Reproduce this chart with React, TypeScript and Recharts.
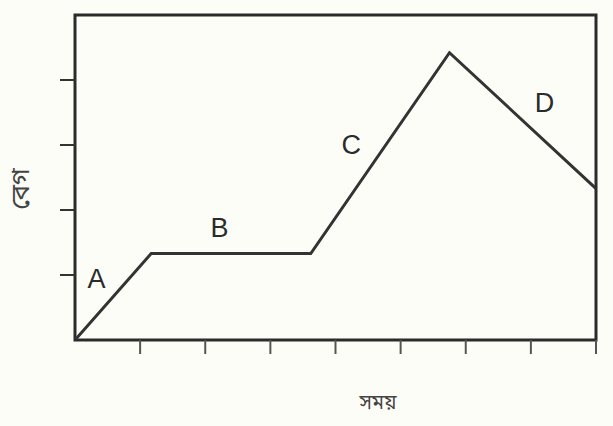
import React from "react";
import {
  ComposedChart,
  Line,
  Scatter,
  XAxis,
  YAxis,
  ReferenceArea,
  Label,
} from "recharts";

// Velocity–time line (x: time, y: velocity)
const timeValues = [0, 1.17, 3.62, 5.75, 8];
const speedValues = [0, 1.33, 1.33, 4.42, 2.33];

// Segment labels
const segNames = ["A", "B", "C", "D"];
const segX = [0.33, 2.22, 4.24, 7.21];
const segY = [0.94, 1.72, 3.0, 3.65];

const xTicks = [1, 2, 3, 4, 5, 6, 7, 8];
const yTicks = [1, 2, 3, 4];

const xTitle = "সময়";
const yTitle = "বেগ";

const lineData = timeValues.map((t, i) => ({ t, v: speedValues[i] }));
const labelData = segNames.map((name, i) => ({ t: segX[i], v: segY[i], name }));

const INK = "#2b2b2b";
const FONT = "'Noto Sans Bengali', 'Liberation Sans', Arial, sans-serif";

const LetterShape = (props: any) => {
  const { cx, cy, payload } = props;
  return (
    <text
      x={cx}
      y={cy}
      textAnchor="middle"
      dominantBaseline="central"
      fontSize={27}
      fontFamily="'Liberation Sans', Arial, sans-serif"
      fill={INK}
    >
      {payload.name}
    </text>
  );
};

export default function App() {
  return (
    <div style={{ width: 613, height: 426, background: "#fdfdf8" }}>
      <style>{`body{margin:0;background:#fdfdf8}`}</style>
      <ComposedChart
        width={613}
        height={426}
        margin={{ top: 15, right: 17, left: 0, bottom: 0 }}
      >
        <XAxis
          dataKey="t"
          type="number"
          domain={[0, 8]}
          ticks={xTicks}
          tickFormatter={() => ""}
          height={86}
          axisLine={false}
          tickSize={14}
          tickLine={{ stroke: "#555", strokeWidth: 2 }}
          allowDataOverflow
        >
          <Label
            content={(p: any) => {
              const vb = p.viewBox;
              return (
                <text
                  x={vb.x + 303}
                  y={vb.y + 64}
                  textAnchor="middle"
                  dominantBaseline="central"
                  fontSize={20}
                  fontFamily={FONT}
                  fill="#444"
                >
                  {xTitle}
                </text>
              );
            }}
          />
        </XAxis>
        <YAxis
          dataKey="v"
          type="number"
          domain={[0, 5]}
          ticks={yTicks}
          tickFormatter={() => ""}
          width={75}
          axisLine={false}
          tickSize={15}
          tickLine={{ stroke: "#333", strokeWidth: 2 }}
          allowDataOverflow
        >
          <Label
            content={(p: any) => {
              const vb = p.viewBox;
              const x = vb.x + 22;
              const y = 189;
              return (
                <text
                  x={x}
                  y={y}
                  textAnchor="middle"
                  dominantBaseline="central"
                  fontSize={26}
                  fontFamily={FONT}
                  fill="#444"
                  transform={`rotate(-90, ${x}, ${y})`}
                >
                  {yTitle}
                </text>
              );
            }}
          />
        </YAxis>
        <ReferenceArea
          x1={0}
          x2={8}
          y1={0}
          y2={5}
          fill="none"
          stroke={INK}
          strokeWidth={3}
          ifOverflow="visible"
        />
        <Line
          data={lineData}
          dataKey="v"
          type="linear"
          stroke="#333"
          strokeWidth={3}
          dot={false}
          isAnimationActive={false}
        />
        <Scatter
          data={labelData}
          dataKey="v"
          shape={LetterShape}
          isAnimationActive={false}
        />
      </ComposedChart>
    </div>
  );
}
